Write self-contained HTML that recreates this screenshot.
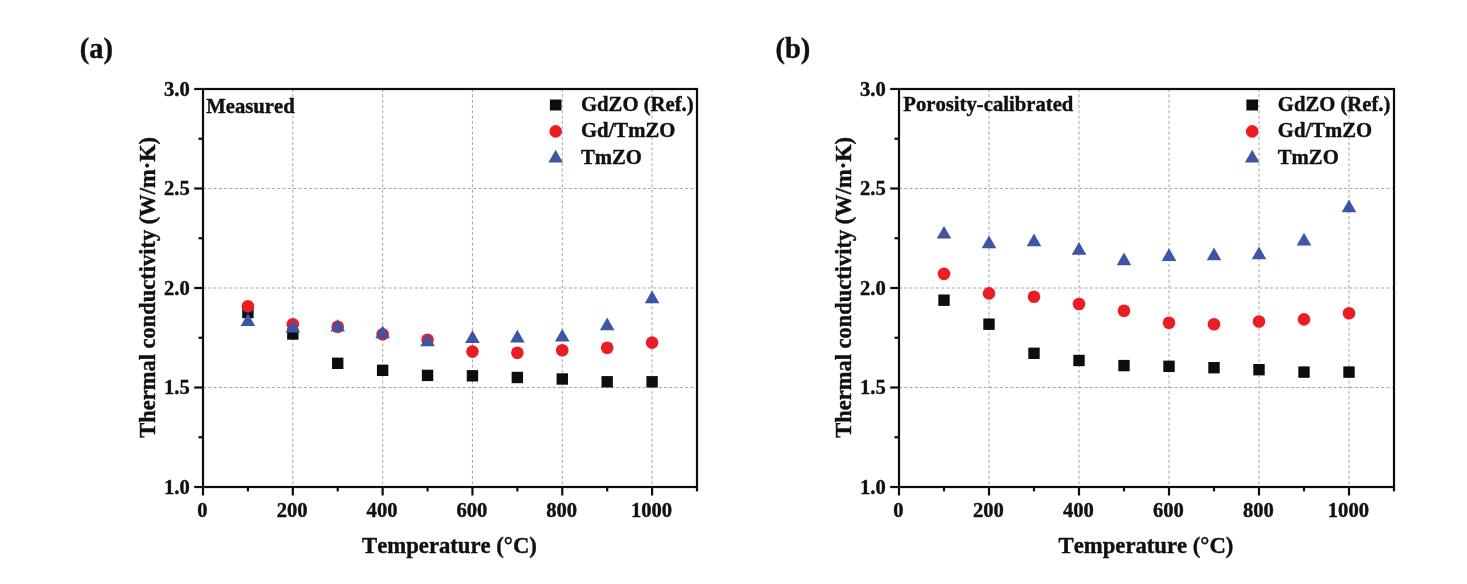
<!DOCTYPE html>
<html lang="en">
<head>
<meta charset="utf-8">
<title>Thermal conductivity</title>
<style>
html,body{margin:0;padding:0;background:#fff;}
body{width:1467px;height:584px;overflow:hidden;}
svg{display:block;filter:blur(0.35px);}
svg text{font-family:"Liberation Serif", "DejaVu Serif", serif;font-weight:bold;fill:#111;stroke:#111;stroke-width:0.4px;stroke-linejoin:round;font-kerning:none;}
.grid line{stroke:#8e8e8e;stroke-width:0.8;stroke-dasharray:3 2.3;}
.ticks line{stroke:#0d0d0d;stroke-width:2.2;}
.tl{font-size:20.6px;}
.at{font-size:22.7px;}
.aty{font-size:22.47px;}
.il{font-size:20.7px;}
.lg{font-size:20.7px;}
.pl{font-size:28.5px;}
</style>
</head>
<body>
<svg width="1467" height="584" viewBox="0 0 1467 584">
<rect width="1467" height="584" fill="#fff"/>
<text x="79.7" y="57.8" class="pl">(a)</text>
<text x="775.4" y="57.8" class="pl">(b)</text>
<g id="chart-a">
<g class="legend-markers">
<rect x="549.90" y="99.50" width="11.6" height="11" fill="#0d0d0d"/>
<circle cx="555.7" cy="131.4" r="6.3" fill="#ea1c24"/>
<polygon points="555.7,149.80 548.4000000000001,162.50 563.0,162.50" fill="#3c55a5"/>
</g>
<g class="grid">
<line x1="292.82" y1="89" x2="292.82" y2="487"/>
<line x1="382.64" y1="89" x2="382.64" y2="487"/>
<line x1="472.45" y1="89" x2="472.45" y2="487"/>
<line x1="562.27" y1="89" x2="562.27" y2="487"/>
<line x1="652.09" y1="89" x2="652.09" y2="487"/>
<line x1="203" y1="387.50" x2="697" y2="387.50"/>
<line x1="203" y1="288.00" x2="697" y2="288.00"/>
<line x1="203" y1="188.50" x2="697" y2="188.50"/>
</g>
<g class="series">
<rect x="242.21" y="306.80" width="11.4" height="11.4" fill="#0d0d0d"/>
<rect x="287.12" y="328.30" width="11.4" height="11.4" fill="#0d0d0d"/>
<rect x="332.03" y="357.60" width="11.4" height="11.4" fill="#0d0d0d"/>
<rect x="376.94" y="364.60" width="11.4" height="11.4" fill="#0d0d0d"/>
<rect x="421.85" y="369.70" width="11.4" height="11.4" fill="#0d0d0d"/>
<rect x="466.75" y="370.10" width="11.4" height="11.4" fill="#0d0d0d"/>
<rect x="511.66" y="371.80" width="11.4" height="11.4" fill="#0d0d0d"/>
<rect x="556.57" y="373.30" width="11.4" height="11.4" fill="#0d0d0d"/>
<rect x="601.48" y="376.10" width="11.4" height="11.4" fill="#0d0d0d"/>
<rect x="646.39" y="376.10" width="11.4" height="11.4" fill="#0d0d0d"/>
<circle cx="247.91" cy="306.30" r="6.3" fill="#ea1c24"/>
<circle cx="292.82" cy="324.30" r="6.3" fill="#ea1c24"/>
<circle cx="337.73" cy="326.80" r="6.3" fill="#ea1c24"/>
<circle cx="382.64" cy="334.30" r="6.3" fill="#ea1c24"/>
<circle cx="427.55" cy="339.80" r="6.3" fill="#ea1c24"/>
<circle cx="472.45" cy="351.60" r="6.3" fill="#ea1c24"/>
<circle cx="517.36" cy="352.80" r="6.3" fill="#ea1c24"/>
<circle cx="562.27" cy="350.30" r="6.3" fill="#ea1c24"/>
<circle cx="607.18" cy="347.80" r="6.3" fill="#ea1c24"/>
<circle cx="652.09" cy="342.60" r="6.3" fill="#ea1c24"/>
<polygon points="247.91,313.20 240.61,325.90 255.21,325.90" fill="#3c55a5"/>
<polygon points="292.82,319.80 285.52,332.50 300.12,332.50" fill="#3c55a5"/>
<polygon points="337.73,318.90 330.43,331.60 345.03,331.60" fill="#3c55a5"/>
<polygon points="382.64,325.50 375.34,338.20 389.94,338.20" fill="#3c55a5"/>
<polygon points="427.55,333.60 420.25,346.30 434.85,346.30" fill="#3c55a5"/>
<polygon points="472.45,330.20 465.15,342.90 479.75,342.90" fill="#3c55a5"/>
<polygon points="517.36,329.80 510.06,342.50 524.66,342.50" fill="#3c55a5"/>
<polygon points="562.27,328.70 554.97,341.40 569.57,341.40" fill="#3c55a5"/>
<polygon points="607.18,317.60 599.88,330.30 614.48,330.30" fill="#3c55a5"/>
<polygon points="652.09,290.60 644.79,303.30 659.39,303.30" fill="#3c55a5"/>
</g>
<rect x="203" y="89" width="494" height="398" fill="none" stroke="#0d0d0d" stroke-width="2.2"/>
<g class="ticks">
<line x1="203.00" y1="487" x2="203.00" y2="495.5"/>
<line x1="247.91" y1="487" x2="247.91" y2="491.4"/>
<line x1="292.82" y1="487" x2="292.82" y2="495.5"/>
<line x1="337.73" y1="487" x2="337.73" y2="491.4"/>
<line x1="382.64" y1="487" x2="382.64" y2="495.5"/>
<line x1="427.55" y1="487" x2="427.55" y2="491.4"/>
<line x1="472.45" y1="487" x2="472.45" y2="495.5"/>
<line x1="517.36" y1="487" x2="517.36" y2="491.4"/>
<line x1="562.27" y1="487" x2="562.27" y2="495.5"/>
<line x1="607.18" y1="487" x2="607.18" y2="491.4"/>
<line x1="652.09" y1="487" x2="652.09" y2="495.5"/>
<line x1="697.00" y1="487" x2="697.00" y2="491.4"/>
<line x1="203" y1="487.00" x2="194.2" y2="487.00"/>
<line x1="203" y1="437.25" x2="198.5" y2="437.25"/>
<line x1="203" y1="387.50" x2="194.2" y2="387.50"/>
<line x1="203" y1="337.75" x2="198.5" y2="337.75"/>
<line x1="203" y1="288.00" x2="194.2" y2="288.00"/>
<line x1="203" y1="238.25" x2="198.5" y2="238.25"/>
<line x1="203" y1="188.50" x2="194.2" y2="188.50"/>
<line x1="203" y1="138.75" x2="198.5" y2="138.75"/>
<line x1="203" y1="89.00" x2="194.2" y2="89.00"/>
</g>
<text x="202.40" y="516.8" class="tl" text-anchor="middle">0</text>
<text x="292.22" y="516.8" class="tl" text-anchor="middle">200</text>
<text x="382.04" y="516.8" class="tl" text-anchor="middle">400</text>
<text x="471.85" y="516.8" class="tl" text-anchor="middle">600</text>
<text x="561.67" y="516.8" class="tl" text-anchor="middle">800</text>
<text x="651.49" y="516.8" class="tl" text-anchor="middle">1000</text>
<text x="189.8" y="493.70" class="tl" text-anchor="end">1.0</text>
<text x="189.8" y="394.20" class="tl" text-anchor="end">1.5</text>
<text x="189.8" y="294.70" class="tl" text-anchor="end">2.0</text>
<text x="189.8" y="195.20" class="tl" text-anchor="end">2.5</text>
<text x="189.8" y="95.70" class="tl" text-anchor="end">3.0</text>
<text x="449.5" y="552.5" class="at" text-anchor="middle">Temperature (°C)</text>
<text transform="translate(154.8,287.3) rotate(-90)" class="aty" text-anchor="middle">Thermal conductivity (W/m·K)</text>
<text x="206.2" y="112.7" class="il">Measured</text>
<text x="581.0" y="111.1" class="lg">GdZO (Ref.)</text>
<text x="581.0" y="137.0" class="lg">Gd/TmZO</text>
<text x="581.0" y="163.5" class="lg">TmZO</text>
</g>
<g id="chart-b">
<g class="legend-markers">
<rect x="1246.40" y="99.50" width="11.6" height="11" fill="#0d0d0d"/>
<circle cx="1252.2" cy="131.4" r="6.3" fill="#ea1c24"/>
<polygon points="1252.2,149.80 1244.9,162.50 1259.5,162.50" fill="#3c55a5"/>
</g>
<g class="grid">
<line x1="989.00" y1="89" x2="989.00" y2="487"/>
<line x1="1079.00" y1="89" x2="1079.00" y2="487"/>
<line x1="1169.00" y1="89" x2="1169.00" y2="487"/>
<line x1="1259.00" y1="89" x2="1259.00" y2="487"/>
<line x1="1349.00" y1="89" x2="1349.00" y2="487"/>
<line x1="899" y1="387.50" x2="1394" y2="387.50"/>
<line x1="899" y1="288.00" x2="1394" y2="288.00"/>
<line x1="899" y1="188.50" x2="1394" y2="188.50"/>
</g>
<g class="series">
<rect x="938.30" y="294.50" width="11.4" height="11.4" fill="#0d0d0d"/>
<rect x="983.30" y="318.50" width="11.4" height="11.4" fill="#0d0d0d"/>
<rect x="1028.30" y="347.60" width="11.4" height="11.4" fill="#0d0d0d"/>
<rect x="1073.30" y="354.80" width="11.4" height="11.4" fill="#0d0d0d"/>
<rect x="1118.30" y="359.90" width="11.4" height="11.4" fill="#0d0d0d"/>
<rect x="1163.30" y="360.60" width="11.4" height="11.4" fill="#0d0d0d"/>
<rect x="1208.30" y="362.00" width="11.4" height="11.4" fill="#0d0d0d"/>
<rect x="1253.30" y="364.00" width="11.4" height="11.4" fill="#0d0d0d"/>
<rect x="1298.30" y="366.40" width="11.4" height="11.4" fill="#0d0d0d"/>
<rect x="1343.30" y="366.40" width="11.4" height="11.4" fill="#0d0d0d"/>
<circle cx="944.00" cy="273.90" r="6.3" fill="#ea1c24"/>
<circle cx="989.00" cy="293.40" r="6.3" fill="#ea1c24"/>
<circle cx="1034.00" cy="296.80" r="6.3" fill="#ea1c24"/>
<circle cx="1079.00" cy="304.00" r="6.3" fill="#ea1c24"/>
<circle cx="1124.00" cy="310.80" r="6.3" fill="#ea1c24"/>
<circle cx="1169.00" cy="322.80" r="6.3" fill="#ea1c24"/>
<circle cx="1214.00" cy="324.20" r="6.3" fill="#ea1c24"/>
<circle cx="1259.00" cy="321.50" r="6.3" fill="#ea1c24"/>
<circle cx="1304.00" cy="319.40" r="6.3" fill="#ea1c24"/>
<circle cx="1349.00" cy="313.20" r="6.3" fill="#ea1c24"/>
<polygon points="944.00,225.90 936.70,238.60 951.30,238.60" fill="#3c55a5"/>
<polygon points="989.00,235.50 981.70,248.20 996.30,248.20" fill="#3c55a5"/>
<polygon points="1034.00,233.50 1026.70,246.20 1041.30,246.20" fill="#3c55a5"/>
<polygon points="1079.00,242.00 1071.70,254.70 1086.30,254.70" fill="#3c55a5"/>
<polygon points="1124.00,252.60 1116.70,265.30 1131.30,265.30" fill="#3c55a5"/>
<polygon points="1169.00,248.20 1161.70,260.90 1176.30,260.90" fill="#3c55a5"/>
<polygon points="1214.00,247.50 1206.70,260.20 1221.30,260.20" fill="#3c55a5"/>
<polygon points="1259.00,246.50 1251.70,259.20 1266.30,259.20" fill="#3c55a5"/>
<polygon points="1304.00,232.80 1296.70,245.50 1311.30,245.50" fill="#3c55a5"/>
<polygon points="1349.00,199.60 1341.70,212.30 1356.30,212.30" fill="#3c55a5"/>
</g>
<rect x="899" y="89" width="495" height="398" fill="none" stroke="#0d0d0d" stroke-width="2.2"/>
<g class="ticks">
<line x1="899.00" y1="487" x2="899.00" y2="495.5"/>
<line x1="944.00" y1="487" x2="944.00" y2="491.4"/>
<line x1="989.00" y1="487" x2="989.00" y2="495.5"/>
<line x1="1034.00" y1="487" x2="1034.00" y2="491.4"/>
<line x1="1079.00" y1="487" x2="1079.00" y2="495.5"/>
<line x1="1124.00" y1="487" x2="1124.00" y2="491.4"/>
<line x1="1169.00" y1="487" x2="1169.00" y2="495.5"/>
<line x1="1214.00" y1="487" x2="1214.00" y2="491.4"/>
<line x1="1259.00" y1="487" x2="1259.00" y2="495.5"/>
<line x1="1304.00" y1="487" x2="1304.00" y2="491.4"/>
<line x1="1349.00" y1="487" x2="1349.00" y2="495.5"/>
<line x1="1394.00" y1="487" x2="1394.00" y2="491.4"/>
<line x1="899" y1="487.00" x2="890.2" y2="487.00"/>
<line x1="899" y1="437.25" x2="894.5" y2="437.25"/>
<line x1="899" y1="387.50" x2="890.2" y2="387.50"/>
<line x1="899" y1="337.75" x2="894.5" y2="337.75"/>
<line x1="899" y1="288.00" x2="890.2" y2="288.00"/>
<line x1="899" y1="238.25" x2="894.5" y2="238.25"/>
<line x1="899" y1="188.50" x2="890.2" y2="188.50"/>
<line x1="899" y1="138.75" x2="894.5" y2="138.75"/>
<line x1="899" y1="89.00" x2="890.2" y2="89.00"/>
</g>
<text x="898.40" y="516.8" class="tl" text-anchor="middle">0</text>
<text x="988.40" y="516.8" class="tl" text-anchor="middle">200</text>
<text x="1078.40" y="516.8" class="tl" text-anchor="middle">400</text>
<text x="1168.40" y="516.8" class="tl" text-anchor="middle">600</text>
<text x="1258.40" y="516.8" class="tl" text-anchor="middle">800</text>
<text x="1348.40" y="516.8" class="tl" text-anchor="middle">1000</text>
<text x="885.8" y="493.70" class="tl" text-anchor="end">1.0</text>
<text x="885.8" y="394.20" class="tl" text-anchor="end">1.5</text>
<text x="885.8" y="294.70" class="tl" text-anchor="end">2.0</text>
<text x="885.8" y="195.20" class="tl" text-anchor="end">2.5</text>
<text x="885.8" y="95.70" class="tl" text-anchor="end">3.0</text>
<text x="1146" y="552.5" class="at" text-anchor="middle">Temperature (°C)</text>
<text transform="translate(850.8,287.3) rotate(-90)" class="aty" text-anchor="middle">Thermal conductivity (W/m·K)</text>
<text x="903.3" y="111.0" class="il">Porosity-calibrated</text>
<text x="1277.8" y="111.1" class="lg">GdZO (Ref.)</text>
<text x="1277.8" y="137.0" class="lg">Gd/TmZO</text>
<text x="1277.8" y="163.5" class="lg">TmZO</text>
</g>
</svg>
</body>
</html>
